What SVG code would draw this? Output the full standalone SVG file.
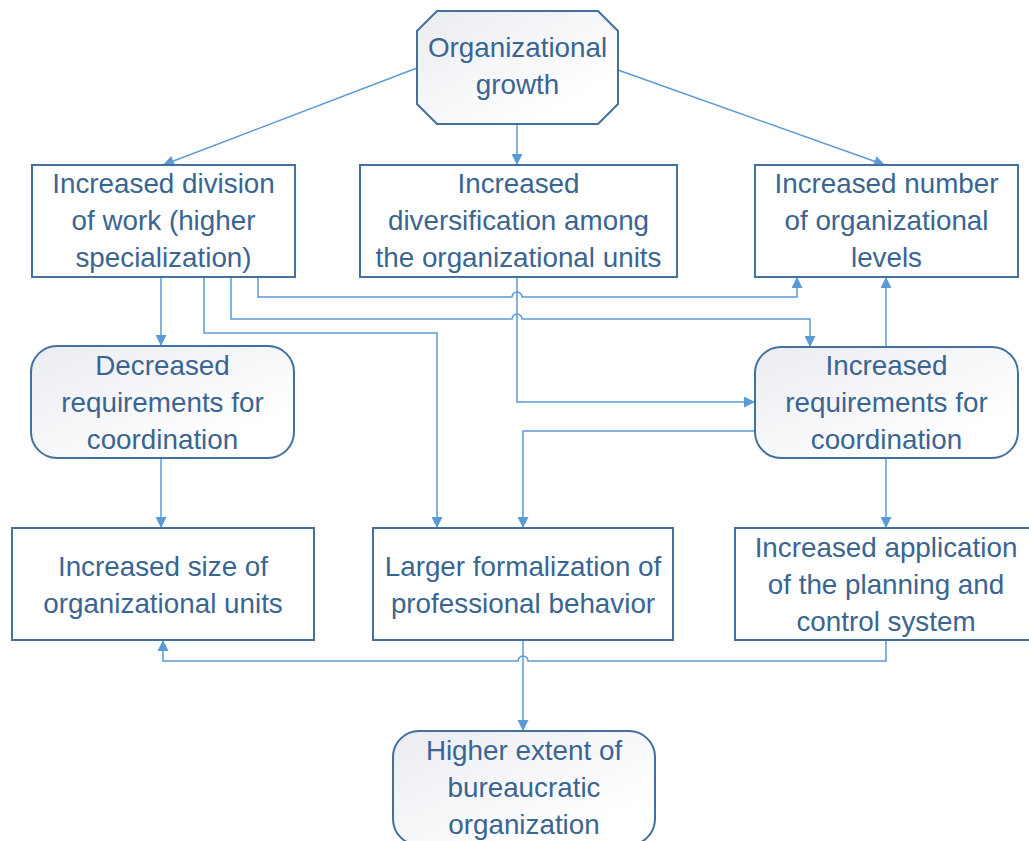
<svg xmlns="http://www.w3.org/2000/svg" width="1029" height="841" viewBox="0 0 1029 841">
<defs>
<linearGradient id="g" x1="0" y1="0" x2="1" y2="1">
<stop offset="0" stop-color="#EAECF1"/>
<stop offset="0.8" stop-color="#FFFFFF"/>
</linearGradient>
<marker id="ah" viewBox="0 0 10 10" refX="10" refY="5" markerWidth="11" markerHeight="11" markerUnits="userSpaceOnUse" orient="auto">
<path d="M0,0 L10,5 L0,10 z" fill="#5B9BD5"/>
</marker>
</defs>
<style>
.box{fill:#FFFFFF;stroke:#41719C;stroke-width:2}
.rbox{fill:url(#g);stroke:#41719C;stroke-width:2}
.t{font-family:"Liberation Sans",Arial,sans-serif;font-size:27.8px;fill:#3A6591;text-anchor:middle}
.c{fill:none;stroke:#5B9BD5;stroke-width:1.5;marker-end:url(#ah)}
</style>
<rect width="1029" height="841" fill="#FFFFFF"/>
<g id="connectors">
<path class="c" d="M417,68 L163,165"/>
<path class="c" d="M517,124 V165"/>
<path class="c" d="M618,70 L885,165"/>
<path class="c" d="M161,277 V346"/>
<path class="c" d="M204,277 V333 H437 V528"/>
<path class="c" d="M231,277 V319 H512 A5,5 0 0 1 522,319 H810 V347"/>
<path class="c" d="M258,277 V297 H512 A5,5 0 0 1 522,297 H797 V277"/>
<path class="c" d="M517,277 V402 H755"/>
<path class="c" d="M755,431 H523 V528"/>
<path class="c" d="M886,347 V277"/>
<path class="c" d="M161,458 V528"/>
<path class="c" d="M886,458 V528"/>
<path class="c" d="M886,640 V661 H528 A5,5 0 0 0 518,661 H163 V640"/>
<path class="c" d="M523,640 V731"/>
</g>
<g id="n-growth">
<path class="rbox" d="M437,11 H598 L618,31 V104 L598,124 H437 L417,104 V31 Z"/>
<text class="t" x="517.5" y="57">Organizational</text>
<text class="t" x="517.5" y="94">growth</text>
</g>
<g id="n-division">
<rect class="box" x="32" y="165" width="263" height="112"/>
<text class="t" x="163.5" y="193">Increased division</text>
<text class="t" x="163.5" y="230">of work (higher</text>
<text class="t" x="163.5" y="267">specialization)</text>
</g>
<g id="n-diversification">
<rect class="box" x="360" y="165" width="317" height="112"/>
<text class="t" x="518.5" y="193">Increased</text>
<text class="t" x="518.5" y="230">diversification among</text>
<text class="t" x="518.5" y="267">the organizational units</text>
</g>
<g id="n-levels">
<rect class="box" x="755" y="165" width="263" height="112"/>
<text class="t" x="886.5" y="193">Increased number</text>
<text class="t" x="886.5" y="230">of organizational</text>
<text class="t" x="886.5" y="267">levels</text>
</g>
<g id="n-decreased">
<rect class="rbox" x="31" y="346" width="263" height="112" rx="26" ry="26"/>
<text class="t" x="162.5" y="375">Decreased</text>
<text class="t" x="162.5" y="412">requirements for</text>
<text class="t" x="162.5" y="449">coordination</text>
</g>
<g id="n-increased-req">
<rect class="rbox" x="755" y="347" width="263" height="111" rx="26" ry="26"/>
<text class="t" x="886.5" y="375">Increased</text>
<text class="t" x="886.5" y="412">requirements for</text>
<text class="t" x="886.5" y="449">coordination</text>
</g>
<g id="n-size">
<rect class="box" x="12" y="528" width="302" height="112"/>
<text class="t" x="163" y="576">Increased size of</text>
<text class="t" x="163" y="613">organizational units</text>
</g>
<g id="n-formalization">
<rect class="box" x="373" y="528" width="300" height="112"/>
<text class="t" x="523" y="576">Larger formalization of</text>
<text class="t" x="523" y="613">professional behavior</text>
</g>
<g id="n-planning">
<rect class="box" x="735" y="528" width="302" height="112"/>
<text class="t" x="886" y="557">Increased application</text>
<text class="t" x="886" y="594">of the planning and</text>
<text class="t" x="886" y="631">control system</text>
</g>
<g id="n-bureaucratic">
<rect class="rbox" x="393" y="731" width="262" height="114" rx="26" ry="26"/>
<text class="t" x="524" y="760">Higher extent of</text>
<text class="t" x="524" y="797">bureaucratic</text>
<text class="t" x="524" y="834">organization</text>
</g>
</svg>
